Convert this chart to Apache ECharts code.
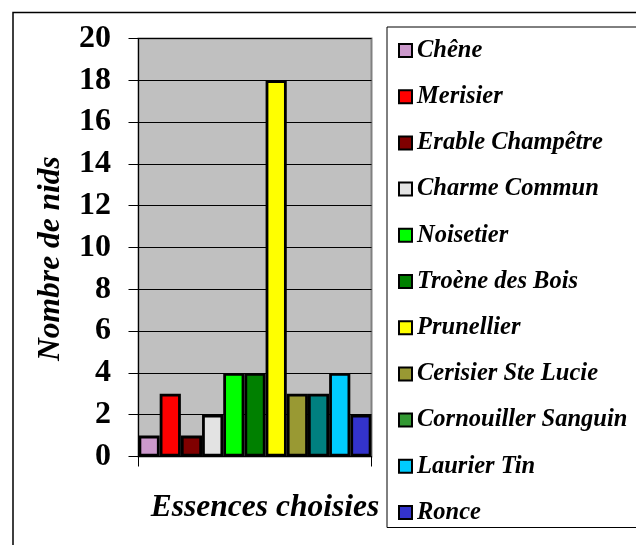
<!DOCTYPE html>
<html>
<head>
<meta charset="utf-8">
<script src="https://cdn.jsdelivr.net/npm/echarts@6/dist/echarts.min.js"></script>
<style>
html,body{margin:0;padding:0;background:#fff;}
#chart{width:636px;height:545px;}
</style>
</head>
<body>
<div id="chart"></div>
<script>
var species = ['Chêne','Merisier','Erable Champêtre','Charme Commun','Noisetier','Troène des Bois','Prunellier','Cerisier Ste Lucie','Cornouiller Sanguin','Laurier Tin','Ronce'];
var nests = [1,3,1,2,4,4,18,3,3,4,2];
var barColors = ['#cc99cc','#ff0000','#800000','#e3e3e3','#00ff00','#008000','#ffff00','#999933','#008080','#00ccff','#3333cc'];
var legendColors = ['#cc99cc','#ff0000','#800000','#e3e3e3','#00ff00','#008000','#ffff00','#999933','#339933','#00ccff','#3333cc'];
var yTicks = [0,2,4,6,8,10,12,14,16,18,20];

var font = "'Liberation Serif','Times New Roman',serif";
var chart = echarts.init(document.getElementById('chart'));

var series = species.map(function(name, i){
  return {
    name: name,
    type: 'bar',
    data: [nests[i]],
    barGap: '0%',
    barCategoryGap: '0%',
    itemStyle: {color: barColors[i], borderColor: '#000', borderWidth: 2.8},
    emphasis: {disabled: true}
  };
});

chart.setOption({
  animation: false,
  backgroundColor: '#fff',
  textStyle: {fontFamily: font},
  graphic: [
    {type:'rect', shape:{x:13, y:12.5, width:700, height:600}, style:{fill:'none', stroke:'#000', lineWidth:1.5}, z:-10},
    {type:'rect', shape:{x:387, y:27, width:400, height:500.5}, style:{fill:'#fff', stroke:'#000', lineWidth:1}, z:-5}
  ],
  grid: {left:138.5, top:38.5, width:233, height:418, show:true, backgroundColor:'#c0c0c0', borderColor:'#808080', borderWidth:2},
  legend: {
    orient:'vertical', left:398, top:38, padding:0,
    itemWidth:13, itemHeight:13, itemGap:21.2,
    icon:'rect',
    data: species.map(function(n,i){ return {name:n, itemStyle:{color:legendColors[i], borderColor:'#000', borderWidth:2}}; }),
    textStyle:{fontFamily:font, fontSize:24.5, fontWeight:'bold', fontStyle:'italic', color:'#000', padding:[0,0,0,0]}
  },
  xAxis: {
    type:'category', data:[''],
    name:'Essences choisies', nameLocation:'middle', nameGap:35,
    nameTextStyle:{fontFamily:font, fontSize:31.5, fontWeight:'bold', fontStyle:'italic', color:'#000', padding:[0,0,0,20]},
    axisLine:{lineStyle:{color:'#000', width:1}},
    axisTick:{show:true, length:10, lineStyle:{color:'#000'}},
    axisLabel:{show:false},
    splitLine:{show:false}
  },
  yAxis: {
    type:'value', min:0, max:20, interval:2,
    name:'Nombre de nids', nameLocation:'middle', nameGap:72, nameRotate:90,
    nameTextStyle:{fontFamily:font, fontSize:31.5, fontWeight:'bold', fontStyle:'italic', color:'#000', padding:[0,22,0,0]},
    axisLine:{show:true, lineStyle:{color:'#000', width:1}},
    axisTick:{show:true, length:10, lineStyle:{color:'#000'}},
    axisLabel:{fontFamily:font, fontSize:32, fontWeight:'bold', color:'#000', margin:27.5,
      formatter:function(v){ return yTicks.indexOf(v) >= 0 ? String(v) : ''; }},
    splitLine:{show:true, lineStyle:{color:'#000', width:1}}
  },
  series: series
});
</script>
</body>
</html>
